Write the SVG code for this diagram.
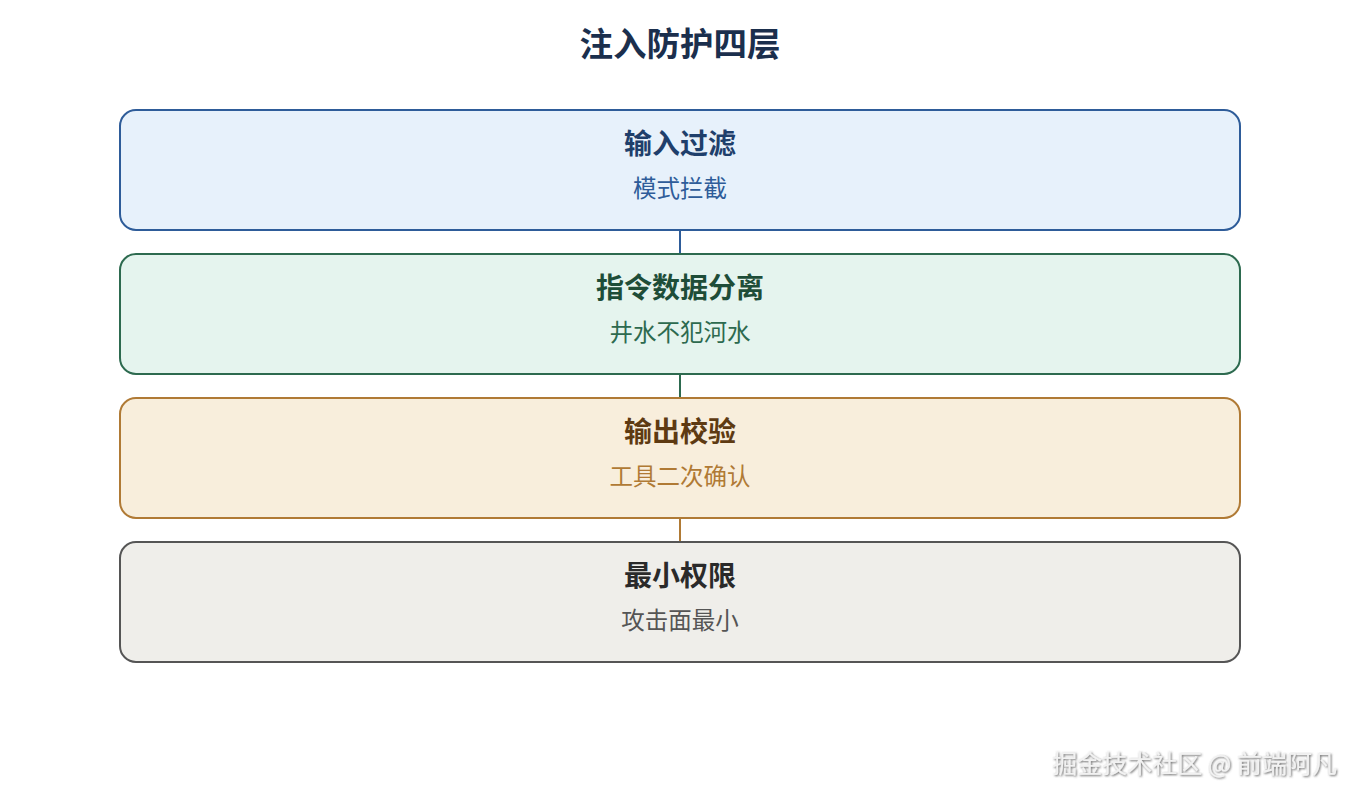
<svg xmlns="http://www.w3.org/2000/svg" width="1360" height="800" viewBox="0 0 1360 800">
<style>
text{font-family:"Noto Sans CJK SC","Noto Sans",sans-serif;text-anchor:middle}
.t{font-size:28px;font-weight:700}
.s{font-size:23.5px}
.box{stroke-width:2}
.c{stroke-width:2}
</style>
<defs>
<filter id="sh" x="-10%" y="-30%" width="120%" height="160%">
<feDropShadow dx="1" dy="1" stdDeviation="0.8" flood-color="#555" flood-opacity="0.9"/>
</filter>
</defs>
<rect width="1360" height="800" fill="#ffffff"/>
<text x="680" y="56" style="font-size:33.5px;font-weight:700" fill="#1b2f4d">注入防护四层</text>
<g id="connectors">
<line class="c" x1="680" y1="230" x2="680" y2="254" stroke="#2e5c99"/>
<line class="c" x1="680" y1="374" x2="680" y2="398" stroke="#2d6a4f"/>
<line class="c" x1="680" y1="518" x2="680" y2="542" stroke="#b07a35"/>
</g>
<g id="n1">
<rect class="box" x="120" y="110" width="1120" height="120" rx="16" fill="#e7f1fb" stroke="#2e5c99"/>
<text class="t" x="680" y="154" fill="#1f3f6b">输入过滤</text>
<text class="s" x="680" y="197" fill="#2e5c99">模式拦截</text>
</g>
<g id="n2">
<rect class="box" x="120" y="254" width="1120" height="120" rx="16" fill="#e5f4ee" stroke="#2d6a4f"/>
<text class="t" x="680" y="298" fill="#1e4d38">指令数据分离</text>
<text class="s" x="680" y="341" fill="#2d6a4f">井水不犯河水</text>
</g>
<g id="n3">
<rect class="box" x="120" y="398" width="1120" height="120" rx="16" fill="#f8eedc" stroke="#b07a35"/>
<text class="t" x="680" y="442" fill="#5e3a12">输出校验</text>
<text class="s" x="680" y="485" fill="#b07a35">工具二次确认</text>
</g>
<g id="n4">
<rect class="box" x="120" y="542" width="1120" height="120" rx="16" fill="#efeeea" stroke="#555555"/>
<text class="t" x="680" y="586" fill="#2a2a2a">最小权限</text>
<text class="s" x="680" y="629" fill="#555555">攻击面最小</text>
</g>
<text x="1337" y="773" style="font-size:25px;text-anchor:end" fill="#f2f2f2" filter="url(#sh)">掘金技术社区 @ 前端阿凡</text>
</svg>
